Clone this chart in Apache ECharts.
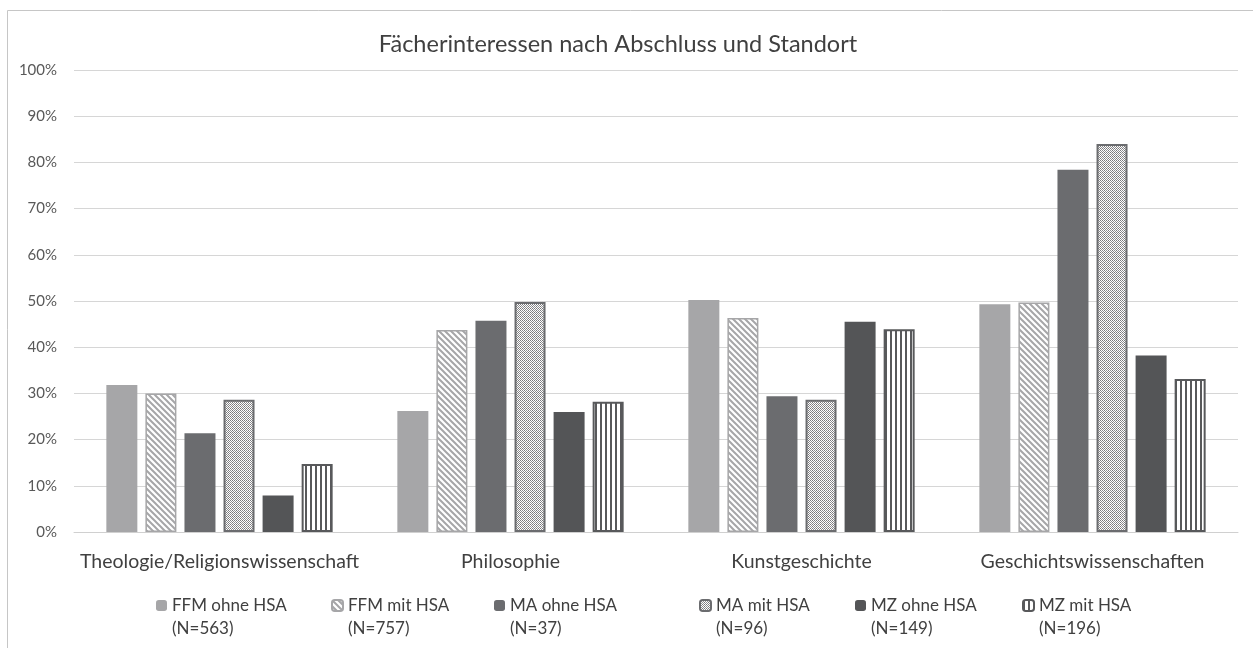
<!DOCTYPE html>
<html>
<head>
<meta charset="utf-8">
<script src="https://cdn.jsdelivr.net/npm/echarts@6/dist/echarts.min.js"></script>
<style>
  html, body { margin: 0; padding: 0; background: #fff; }
  #chart { width: 1253px; height: 648px; }
</style>
</head>
<body>
<div id="chart"></div>
<script>
// data (percent)
const categories = ['Theologie/Religionswissenschaft', 'Philosophie', 'Kunstgeschichte', 'Geschichtswissenschaften']
const seriesNames = ['FFM ohne HSA', 'FFM mit HSA', 'MA ohne HSA', 'MA mit HSA', 'MZ ohne HSA', 'MZ mit HSA']
const groupSizes = ['(N=563)', '(N=757)', '(N=37)', '(N=96)', '(N=149)', '(N=196)']
const ffmOhne = [31.8, 26.2, 50.2, 49.3]
const ffmMit = [30.0, 43.7, 46.3, 49.7]
const maOhne = [21.4, 45.7, 29.4, 78.4]
const maMit = [28.6, 49.8, 28.6, 84.0]
const mzOhne = [7.9, 26.0, 45.5, 38.2]
const mzMit = [14.7, 28.2, 43.9, 33.1]
const yTicks = [0, 100, 10]

const FONT = 'Lato, "Open Sans", sans-serif'

function tile(w, h, draw) {
  const c = document.createElement('canvas')
  c.width = w
  c.height = h
  const ctx = c.getContext('2d')
  ctx.fillStyle = '#ffffff'
  ctx.fillRect(0, 0, w, h)
  draw(ctx)
  return { image: c, repeat: 'repeat' }
}

// "\" diagonal hatching
const diagPattern = tile(6, 6, (ctx) => {
  ctx.strokeStyle = '#a6a6a8'
  ctx.lineWidth = 2
  ctx.beginPath()
  ctx.moveTo(-1, -1); ctx.lineTo(7, 7)
  ctx.moveTo(5, -1); ctx.lineTo(7, 1)
  ctx.moveTo(-1, 5); ctx.lineTo(1, 7)
  ctx.stroke()
})

// fine plaid / dotted fill
const plaidPattern = tile(8, 8, (ctx) => {
  for (let y = 0; y < 8; y++) {
    for (let x = 0; x < 8; x++) {
      const band = (x % 4 === 0) || (y % 4 === 0)
      if ((x + y) % 2 === 0) {
        ctx.fillStyle = band ? '#77777a' : '#8e8e90'
        ctx.fillRect(x, y, 1, 1)
      } else if (x % 4 === 0 && y % 4 === 0) {
        ctx.fillStyle = '#a0a0a2'
        ctx.fillRect(x, y, 1, 1)
      }
    }
  }
})

// vertical stripes
const vertPattern = tile(5, 4, (ctx) => {
  ctx.fillStyle = '#58595b'
  ctx.fillRect(0, 0, 2, 4)
})

const styles = [
  { color: '#a6a6a8' },
  { color: diagPattern, borderColor: '#a6a6a8', borderWidth: 1.5 },
  { color: '#6b6c6f' },
  { color: plaidPattern, borderColor: '#6b6c6f', borderWidth: 2 },
  { color: '#545557' },
  { color: vertPattern, borderColor: '#58595b', borderWidth: 2 },
]
const values = [ffmOhne, ffmMit, maOhne, maMit, mzOhne, mzMit]
const legendLeft = [156, 331, 494, 699, 855, 1022]

const chart = echarts.init(document.getElementById('chart'))

chart.setOption({
  animation: false,
  textStyle: { fontFamily: FONT },
  graphic: [
    { type: 'line', shape: { x1: 7.5, y1: 10.5, x2: 1253, y2: 10.5 }, style: { stroke: '#c6c6c6', lineWidth: 1 } },
    { type: 'line', shape: { x1: 7.5, y1: 10.5, x2: 7.5, y2: 648 }, style: { stroke: '#c6c6c6', lineWidth: 1 } },
    {
      type: 'text', x: 618, y: 44,
      style: { text: 'Fächerinteressen nach Abschluss und Standort', fontFamily: FONT, fontSize: 23.5, fill: '#404040', align: 'center', verticalAlign: 'middle' },
    },
  ],
  grid: { left: 74, right: 15, top: 70, bottom: 116 },
  // blank first line keeps the icon level with the series name
  legend: seriesNames.map((name, i) => ({
    data: [name],
    left: legendLeft[i],
    top: 571,
    padding: 0,
    itemWidth: 11,
    itemHeight: 11,
    itemGap: 0,
    formatter: (n) => ' \n' + n + '\n' + groupSizes[i],
    textStyle: { fontFamily: FONT, fontSize: 17, color: '#404040', lineHeight: 23 },
  })),
  xAxis: {
    type: 'category',
    data: categories,
    axisLine: { lineStyle: { color: '#d0d0d0', width: 1 } },
    axisTick: { show: false },
    axisLabel: { interval: 0, fontFamily: FONT, fontSize: 19.5, color: '#404040', margin: 20 },
  },
  yAxis: {
    type: 'value',
    min: yTicks[0],
    max: yTicks[1],
    interval: yTicks[2],
    axisLine: { show: false },
    axisTick: { show: false },
    splitLine: { lineStyle: { color: '#d6d6d6', width: 1 } },
    axisLabel: { fontFamily: FONT, fontSize: 15, color: '#595959', margin: 17, formatter: '{value}%' },
  },
  series: seriesNames.map((name, i) => ({
    name,
    type: 'bar',
    data: values[i],
    barWidth: 31,
    barGap: '26%',
    itemStyle: styles[i],
  })),
})
</script>
</body>
</html>
